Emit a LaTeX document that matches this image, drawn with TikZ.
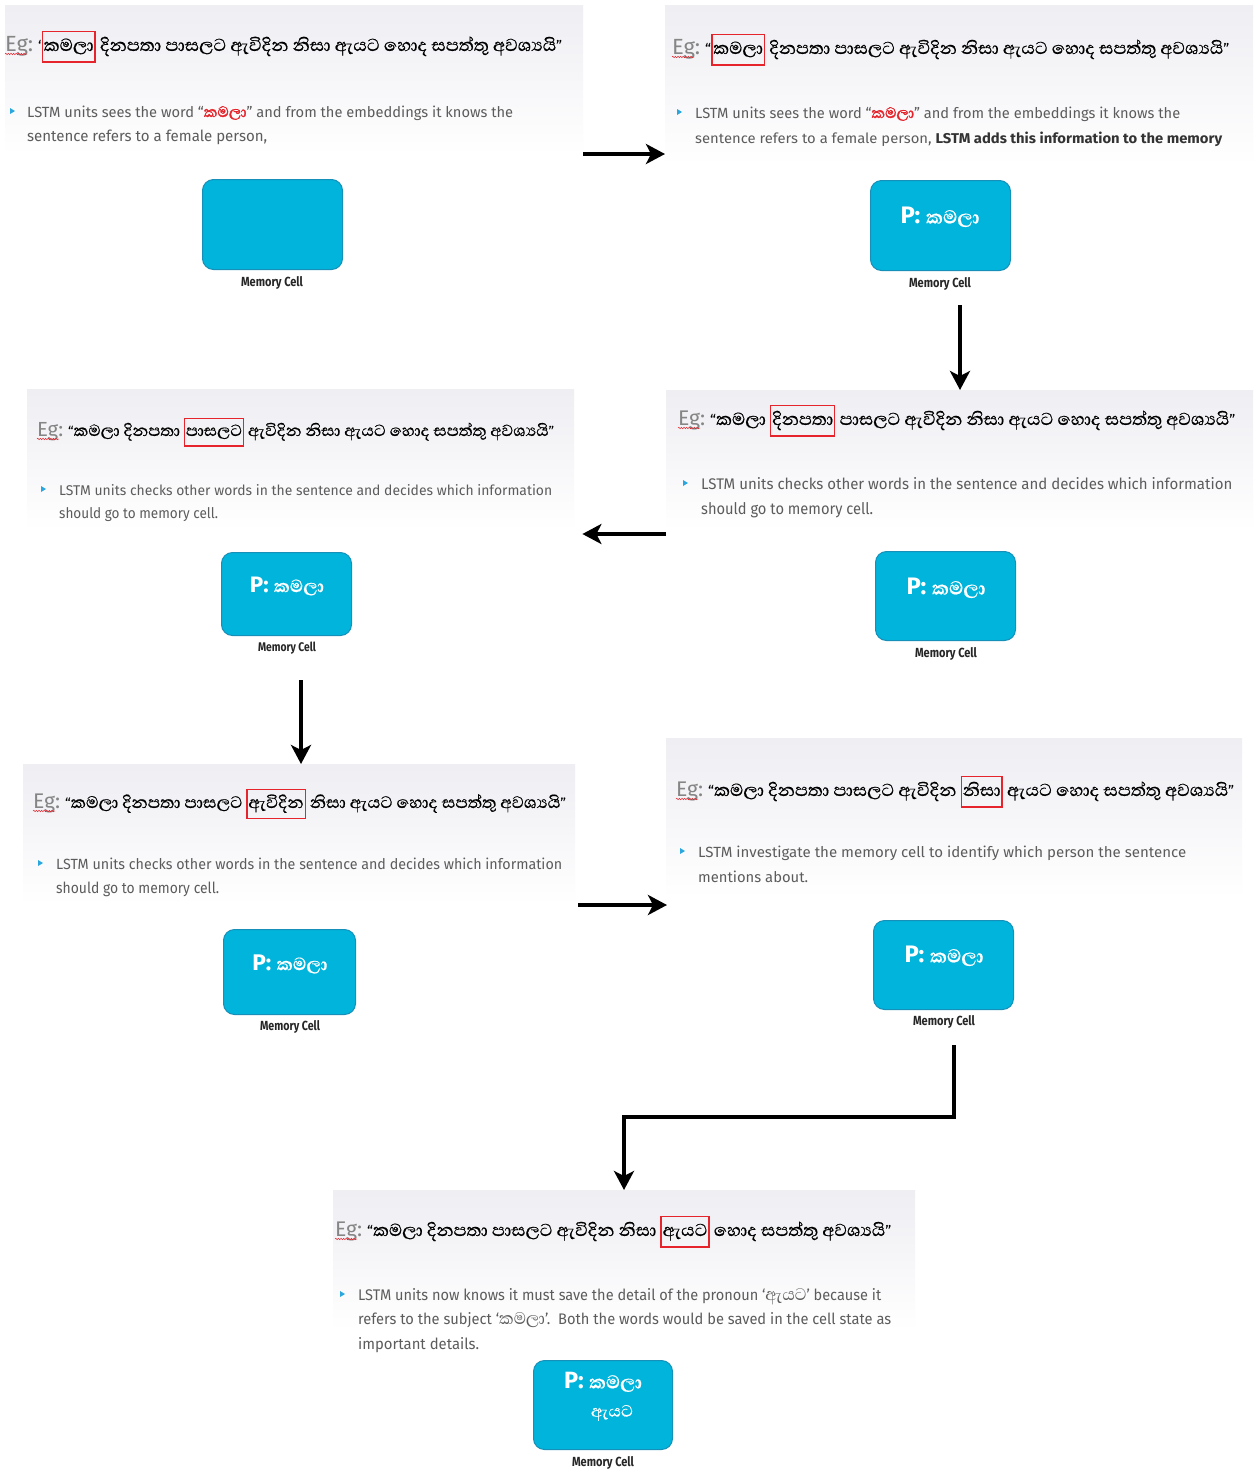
\documentclass[tikz,border=0pt]{standalone}
\usepackage{fontspec}
\usepackage{graphicx}
\setmainfont{Fira Sans}
% Sinhala faces: heading weight, plain inline, heavier inline, and cell label
\newfontfamily\sinfont[Script=Sinhala,Scale=1.5,FakeBold=0.6]{Abhaya Libre}
\newfontfamily\sinplain[Script=Sinhala,Scale=1.4]{Abhaya Libre}
\newfontfamily\sinbold[Script=Sinhala,Scale=1.3,FakeBold=1.6]{Abhaya Libre}
\newfontfamily\sinbox[Script=Sinhala,FakeBold=0.5]{Abhaya Libre}
\usetikzlibrary{arrows.meta,decorations.pathmorphing}

\definecolor{bgtop}{HTML}{EEEEF3}
\definecolor{cellfill}{HTML}{00B4DC}
\definecolor{celledge}{HTML}{1690B8}
\definecolor{txtgray}{HTML}{5C5C5C}
\definecolor{darktxt}{HTML}{333333}
\definecolor{eggray}{HTML}{858585}
\definecolor{hlred}{HTML}{E5242B}
\definecolor{bulletblue}{HTML}{2AA7DF}

% framed word inside a sentence
\newcommand{\boxw}[1]{{\setlength{\fboxsep}{0.6pt}\setlength{\fboxrule}{0.9pt}%
  \textcolor{hlred}{\fbox{\textcolor{black}{\rule[-0.42em]{0pt}{1.22em}#1}}}}}
% heading: "Eg:" label followed by the quoted sentence, each fitted to a width
\newcommand{\egline}[3]{\resizebox{#1}{!}{\textcolor{eggray}{Eg:}}\hspace{5pt}\resizebox{#2}{!}{#3}}
\newcommand{\fitln}[3]{\resizebox{#1}{#2}{#3}}
\newcommand{\pcell}[1]{\resizebox{#1}{!}{\bfseries P: {\sinbox කමලා}}}

\tikzset{
  panel/.style={draw=none, top color=bgtop, bottom color=white, anchor=north west, inner sep=0pt},
  cellbox/.style={fill=cellfill, draw=celledge, line width=1pt, rounded corners=11pt, anchor=north west, inner sep=0pt},
  cellcap/.style={text=black!85, inner sep=0pt, anchor=center},
  txtline/.style={anchor=base west, inner sep=0pt, text=txtgray},
  ttl/.style={anchor=base west, inner sep=0pt},
  ptext/.style={text=white, inner sep=0pt, anchor=center},
  flowarrow/.style={line width=4pt, -{Stealth[length=19pt,width=20pt,inset=5pt]}, line join=miter},
  wavy/.style={hlred, line width=0.5pt, decorate, decoration={snake, amplitude=0.7pt, segment length=2.6pt}},
}
\newcommand{\bul}[2]{\fill[bulletblue] (#1,#2-3) -- (#1+5,#2) -- (#1,#2+3) -- cycle;}
\newcommand{\wav}[2]{\draw[wavy] (#1,#2+3) -- (#1+22,#2+3);}

\begin{document}
\begin{tikzpicture}[x=1pt,y=-1pt]
\useasboundingbox (0,0) rectangle (1258,1473);
\fill[white] (0,0) rectangle (1258,1473);

% ---------- step 1 ----------
\node[panel, minimum width=578pt, minimum height=150pt] (p1) at (5,5) {};
\node[ttl] (t1) at (5,51) {\egline{28pt}{524pt}{‘{\sinfont\boxw{කමලා} දිනපතා පාසලට ඇවිදින නිසා ඇයට හොද සපත්තු අවශ්^^^^200dයයි}”}};
\wav{5}{51}
\bul{10}{111}
\node[txtline] (l1a) at (27,117) {\fitln{486pt}{11.5pt}{LSTM units sees the word “{\sinbold\color{hlred}කමලා}” and from the embeddings it knows the}};
\node[txtline] (l1b) at (27,141) {\fitln{240pt}{11.5pt}{sentence refers to a female person,}};
\node[cellbox, minimum width=140pt, minimum height=90pt] (c1) at (202,179) {};
\node[cellcap] (m1) at (272,283) {\fitln{62pt}{10pt}{\bfseries Memory Cell}};

% ---------- step 2 ----------
\node[panel, minimum width=588pt, minimum height=160pt] (p2) at (665,5) {};
\node[ttl] (t2) at (672,54) {\egline{28pt}{524pt}{“{\sinfont\boxw{කමලා} දිනපතා පාසලට ඇවිදින නිසා ඇයට හොද සපත්තු අවශ්^^^^200dයයි}”}};
\wav{672}{54}
\bul{677}{112}
\node[txtline] (l2a) at (695,118) {\fitln{485pt}{11.5pt}{LSTM units sees the word “{\sinbold\color{hlred}කමලා}” and from the embeddings it knows the}};
\node[txtline] (l2b) at (695,143) {\fitln{527pt}{11.5pt}{sentence refers to a female person, {\color{darktxt}\bfseries LSTM adds this information to the memory}}};
\node[cellbox, minimum width=140pt, minimum height=90pt] (c2) at (870,180) {};
\node[ptext] (v2) at (940,217) {\pcell{79pt}};
\node[cellcap] (m2) at (940,284) {\fitln{62pt}{10pt}{\bfseries Memory Cell}};

% ---------- step 3 ----------
\node[panel, minimum width=587pt, minimum height=140pt] (p4) at (666,390) {};
\node[ttl] (t4) at (678,425) {\egline{27pt}{525pt}{“{\sinfont කමලා \boxw{දිනපතා} පාසලට ඇවිදින නිසා ඇයට හොද සපත්තු අවශ්^^^^200dයයි}”}};
\wav{678}{425}
\bul{683}{483}
\node[txtline] (l4a) at (701,489) {\fitln{531pt}{12pt}{LSTM units checks other words in the sentence and decides which information}};
\node[txtline] (l4b) at (701,514) {\fitln{172pt}{12pt}{should go to memory cell.}};
\node[cellbox, minimum width=140pt, minimum height=89pt] (c4) at (875,551) {};
\node[ptext] (v4) at (946,588) {\pcell{79pt}};
\node[cellcap] (m4) at (946,654) {\fitln{62pt}{10pt}{\bfseries Memory Cell}};

% ---------- step 4 ----------
\node[panel, minimum width=547pt, minimum height=141pt] (p3) at (27,389) {};
\node[ttl] (t3) at (37,436) {\egline{26pt}{486pt}{“{\sinfont කමලා දිනපතා \boxw{පාසලට} ඇවිදින නිසා ඇයට හොද සපත්තු අවශ්^^^^200dයයි}”}};
\wav{37}{436}
\bul{41}{489}
\node[txtline] (l3a) at (59,495) {\fitln{493pt}{11pt}{LSTM units checks other words in the sentence and decides which information}};
\node[txtline] (l3b) at (59,518) {\fitln{159pt}{11pt}{should go to memory cell.}};
\node[cellbox, minimum width=130pt, minimum height=83pt] (c3) at (221,552) {};
\node[ptext] (v3) at (287,586) {\pcell{74pt}};
\node[cellcap] (m3) at (287,648) {\fitln{58pt}{9.5pt}{\bfseries Memory Cell}};

% ---------- step 5 ----------
\node[panel, minimum width=552pt, minimum height=140pt] (p5) at (23,764) {};
\node[ttl] (t5) at (33,808) {\egline{27pt}{501pt}{“{\sinfont කමලා දිනපතා පාසලට \boxw{ඇවිදින} නිසා ඇයට හොද සපත්තු අවශ්^^^^200dයයි}”}};
\wav{33}{808}
\bul{38}{863}
\node[txtline] (l5a) at (56,869) {\fitln{506pt}{11.5pt}{LSTM units checks other words in the sentence and decides which information}};
\node[txtline] (l5b) at (56,893) {\fitln{163pt}{11.5pt}{should go to memory cell.}};
\node[cellbox, minimum width=132pt, minimum height=85pt] (c5) at (223,929) {};
\node[ptext] (v5) at (290,964) {\pcell{75pt}};
\node[cellcap] (m5) at (290,1027) {\fitln{60pt}{10pt}{\bfseries Memory Cell}};

% ---------- step 6 ----------
\node[panel, minimum width=576pt, minimum height=160pt] (p6) at (666,738) {};
\node[ttl] (t6) at (676,796) {\egline{27pt}{526pt}{“{\sinfont කමලා දිනපතා පාසලට ඇවිදින \boxw{නිසා} ඇයට හොද සපත්තු අවශ්^^^^200dයයි}”}};
\wav{676}{796}
\bul{680}{851}
\node[txtline] (l6a) at (698,857) {\fitln{488pt}{11.5pt}{LSTM investigate the memory cell to identify which person the sentence}};
\node[txtline] (l6b) at (698,882) {\fitln{110pt}{11.5pt}{mentions about.}};
\node[cellbox, minimum width=140pt, minimum height=89pt] (c6) at (873,920) {};
\node[ptext] (v6) at (944,956) {\pcell{79pt}};
\node[cellcap] (m6) at (944,1022) {\fitln{62pt}{10pt}{\bfseries Memory Cell}};

% ---------- step 7 ----------
\node[panel, minimum width=582pt, minimum height=140pt] (p7) at (333,1190) {};
\node[ttl] (t7) at (335,1236) {\egline{27pt}{524pt}{“{\sinfont කමලා දිනපතා පාසලට ඇවිදින නිසා \boxw{ඇයට} හොද සපත්තු අවශ්^^^^200dයයි}”}};
\wav{335}{1236}
\bul{340}{1294}
\node[txtline] (l7a) at (358,1300) {\fitln{523pt}{12pt}{LSTM units now knows it must save the detail of the pronoun ‘{\sinplain ඇයට}’ because it}};
\node[txtline] (l7b) at (358,1324) {\fitln{533pt}{12pt}{refers to the subject ‘{\sinplain කමලා}’.\ \ Both the words would be saved in the cell state as}};
\node[txtline] (l7c) at (358,1349) {\fitln{121pt}{12pt}{important details.}};
\node[cellbox, minimum width=139pt, minimum height=89pt] (c7) at (533,1360) {};
\node[ptext] (v7a) at (603,1382) {\pcell{78pt}};
\node[ptext] (v7b) at (612,1413) {\resizebox{42pt}{!}{\sinbox ඇයට}};
\node[cellcap] (m7) at (603,1463) {\fitln{62pt}{10pt}{\bfseries Memory Cell}};

% ---------- flow between steps ----------
\coordinate (a2s) at (960,305);
\coordinate (a4s) at (301,680);
\coordinate (a6s) at (954,1045);
\coordinate (a6m) at (624,1117);
\draw[flowarrow] (p1.east |- 0,154) -- (p2.west |- 0,154);
\draw[flowarrow] (a2s) -- (a2s |- p4.north);
\draw[flowarrow] (p4.west |- 0,534) -- ([xshift=8pt]p3.east |- 0,534);
\draw[flowarrow] (a4s) -- (a4s |- p5.north);
\draw[flowarrow] ([xshift=3pt]p5.east |- 0,905) -- ([xshift=1pt]p6.west |- 0,905);
\draw[flowarrow] (a6s) |- (a6m) -- (a6m |- p7.north);
\end{tikzpicture}
\end{document}
